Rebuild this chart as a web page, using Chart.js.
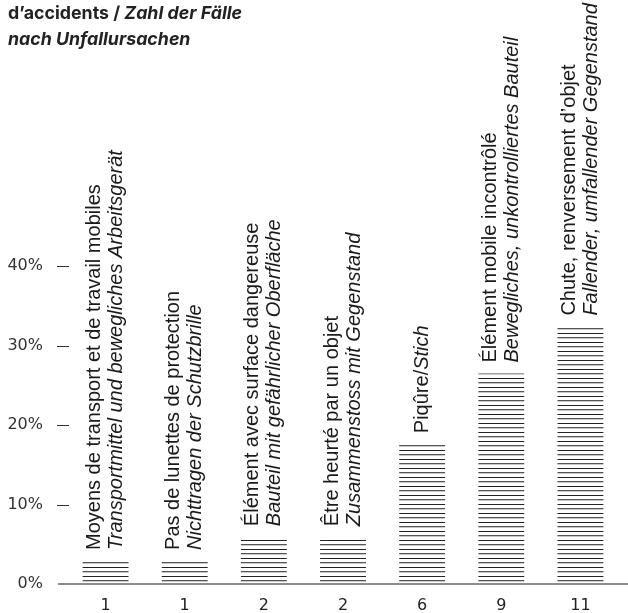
<!DOCTYPE html>
<html>
<head>
<meta charset="utf-8">
<script src="https://cdn.jsdelivr.net/npm/chart.js@4"></script>
<style>
html, body { margin: 0; padding: 0; background: #fff; }
#cadre { position: relative; width: 628px; height: 613px; }
#graphique { position: absolute; left: 0; top: 0; }
#titre { position: absolute; left: 8px; top: 0; font-family: Inter, sans-serif; font-weight: 700; font-size: 17.8px; line-height: 26px; color: #222; }
</style>
</head>
<body>
<div id="cadre">
  <canvas id="graphique" width="628" height="613"></canvas>
  <div id="titre">d’accidents / <i>Zahl der Fälle</i><br><i>nach Unfallursachen</i></div>
</div>
<script>
// nombre de cas (étiquettes de l'axe x)
const categories = ['1', '1', '2', '2', '6', '9', '11'];
// part en %
const pourcentages = [2.9, 2.9, 5.9, 5.9, 17.6, 26.5, 32.4];
const libellesFr = [
    'Moyens de transport et de travail mobiles',
    'Pas de lunettes de protection',
    'Élément avec surface dangereuse',
    'Être heurté par un objet',
    'Piqûre/',
    'Élément mobile incontrôlé',
    'Chute, renversement d’objet'
];
const libellesDe = [
    'Transportmittel und bewegliches Arbeitsgerät',
    'Nichttragen der Schutzbrille',
    'Bauteil mit gefährlicher Oberfläche',
    'Zusammenstoss mit Gegenstand',
    'Stich',
    'Bewegliches, unkontrolliertes Bauteil',
    'Fallender, umfallender Gegenstand'
];
const ticksY = [0, 10, 20, 30, 40];

const ctx = document.getElementById('graphique').getContext('2d');

// hachures horizontales des barres
function motifLignes() {
    const c = document.createElement('canvas');
    c.width = 4;
    c.height = 9;
    const g = c.getContext('2d');
    g.fillStyle = '#222';
    g.fillRect(0, 0, 4, 1);
    g.fillStyle = '#555';
    g.fillRect(0, 4, 4, 1);
    g.fillStyle = '#c8c8c8';
    g.fillRect(0, 5, 4, 1);
    return ctx.createPattern(c, 'repeat');
}

const police = '"Liberation Sans", Arial, sans-serif';

const decor = {
    id: 'decor',
    afterDatasetsDraw(chart) {
        const { ctx, chartArea, scales: { x, y } } = chart;
        ctx.save();

        // petits traits des graduations
        ctx.strokeStyle = '#333';
        ctx.lineWidth = 1;
        ticksY.forEach(v => {
            if (v === 0) return;
            const py = Math.round(y.getPixelForValue(v)) + 0.5;
            ctx.beginPath();
            ctx.moveTo(chartArea.left - 9, py);
            ctx.lineTo(chartArea.left + 3, py);
            ctx.stroke();
        });

        // ligne de base
        const by = Math.round(y.getPixelForValue(0));
        ctx.strokeStyle = '#8c8c8c';
        ctx.lineWidth = 2;
        ctx.beginPath();
        ctx.moveTo(chartArea.left - 8, by);
        ctx.lineTo(chart.width, by);
        ctx.stroke();

        // libellés verticaux au-dessus des barres
        ctx.fillStyle = '#1a1a1a';
        ctx.textBaseline = 'middle';
        ctx.textAlign = 'left';
        categories.forEach((c, i) => {
            const px = x.getPixelForValue(i);
            const py = y.getPixelForValue(pourcentages[i]) - 11;
            ctx.save();
            ctx.translate(px, py);
            ctx.rotate(-Math.PI / 2);
            if (i === 4) {
                // Piqûre/Stich sur une seule ligne
                ctx.font = '20px ' + police;
                ctx.fillText(libellesFr[i], 0, 0);
                const w = ctx.measureText(libellesFr[i]).width;
                ctx.font = 'italic 20px ' + police;
                ctx.fillText(libellesDe[i], w, 0);
            } else {
                ctx.font = '20px ' + police;
                ctx.fillText(libellesFr[i], 0, -11);
                ctx.font = 'italic 20px ' + police;
                ctx.fillText(libellesDe[i], 0, 11);
            }
            ctx.restore();
        });

        ctx.restore();
    }
};

new Chart(ctx, {
    type: 'bar',
    data: {
        labels: categories,
        datasets: [{
            data: pourcentages,
            backgroundColor: motifLignes(),
            borderWidth: 0,
            barPercentage: 0.58,
            categoryPercentage: 1
        }]
    },
    options: {
        responsive: false,
        animation: false,
        layout: { padding: { left: 7, right: 8, top: 12, bottom: 0 } },
        plugins: {
            legend: { display: false },
            tooltip: { enabled: false }
        },
        scales: {
            x: {
                grid: { display: false, drawTicks: false },
                border: { display: false },
                afterFit: s => { s.height = 29; },
                ticks: {
                    color: '#222',
                    font: { family: 'DejaVu Sans', size: 16 },
                    padding: 12
                }
            },
            y: {
                min: 0,
                max: 72,
                grid: { display: false, drawTicks: true, tickLength: 23 },
                border: { display: false },
                afterBuildTicks: s => { s.ticks = ticksY.map(v => ({ value: v })); },
                afterFit: s => { s.width = 59; },
                ticks: {
                    color: '#333',
                    font: { family: 'DejaVu Sans', size: 16 },
                    padding: 0,
                    callback: v => v + '%'
                }
            }
        }
    },
    plugins: [decor]
});
</script>
</body>
</html>
